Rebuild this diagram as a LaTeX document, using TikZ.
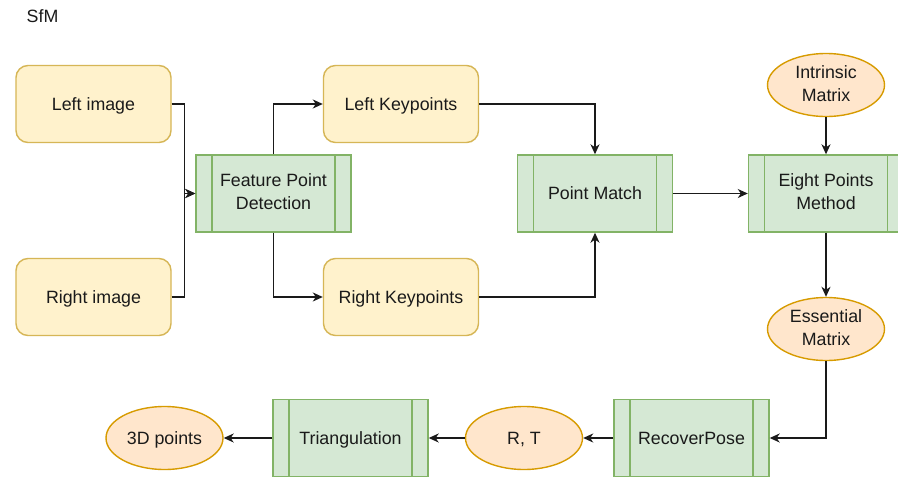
\documentclass[tikz,border=0pt]{standalone}
\usepackage{fontspec}
\setmainfont{Liberation Sans}
\usetikzlibrary{arrows.meta,shapes.geometric}
\definecolor{yfill}{HTML}{FFF2CC}
\definecolor{ydraw}{HTML}{D6B656}
\definecolor{gfill}{HTML}{D5E8D4}
\definecolor{gdraw}{HTML}{82B366}
\definecolor{ofill}{HTML}{FFE6CC}
\definecolor{odraw}{HTML}{D79B00}
\definecolor{txt}{HTML}{1A1A1A}
\definecolor{edge}{HTML}{1A1A1A}
\tikzset{
  base/.style={inner sep=0pt, align=center, text=txt, line width=1.4pt,
    font=\fontsize{17.8}{23}\selectfont,
    execute at begin node={\rule{0pt}{16.1pt}},
    execute at end node={\rule[-3.8pt]{0pt}{3.8pt}}},
  rbox/.style={base, rectangle, rounded corners=12pt, fill=yfill, draw=ydraw,
    minimum width=155pt, minimum height=77pt},
  pbox/.style={base, rectangle, fill=gfill, draw=gdraw,
    minimum width=155pt, minimum height=77pt,
    path picture={
      \draw[gdraw, line width=1.4pt]
        ([xshift=16pt]path picture bounding box.north west) -- ([xshift=16pt]path picture bounding box.south west)
        ([xshift=-16pt]path picture bounding box.north east) -- ([xshift=-16pt]path picture bounding box.south east);
    }},
  ebox/.style={base, ellipse, fill=ofill, draw=odraw,
    minimum width=117pt, minimum height=63pt},
  arr/.style={draw=edge, line width=1.4pt, -{Stealth[length=10pt,width=9pt,inset=3pt]}}
}
\begin{document}
\begin{tikzpicture}[x=1pt,y=-1pt]
\clip (0,0) rectangle (898,477);
\fill[white] (0,0) rectangle (898,477);
\node[base, anchor=west] (title) at (26,16) {SfM};
\node[rbox] (li) at (93.5,104) {Left image};
\node[rbox] (ri) at (93.5,297) {Right image};
\node[pbox] (fpd) at (273.5,193.5) {Feature Point\\Detection};
\node[rbox] (lk) at (401,104) {Left Keypoints};
\node[rbox] (rk) at (401,297) {Right Keypoints};
\node[pbox] (pm) at (595,193.5) {Point Match};
\node[pbox] (ep) at (826,193.5) {Eight Points\\Method};
\node[ebox] (im) at (826,85) {Intrinsic\\Matrix};
\node[ebox] (em) at (826,329) {Essential\\Matrix};
\node[pbox] (rp) at (691.5,438) {RecoverPose};
\node[ebox] (rt) at (524,438) {R, T};
\node[pbox] (tri) at (350.5,438) {Triangulation};
\node[ebox] (p3) at (164.5,438) {3D points};

\draw[arr] (li.east) -- ++(13,0) |- (fpd.west);
\draw[arr] (ri.east) -- ++(13,0) |- (fpd.west);
\draw[arr] (fpd.north) |- (lk.west);
\draw[arr] (fpd.south) |- (rk.west);
\draw[arr] (lk.east) -| (pm.north);
\draw[arr] (rk.east) -| (pm.south);
\draw[arr] (pm.east) -- (ep.west);
\draw[arr] (im.south) -- (ep.north);
\draw[arr] (ep.south) -- (em.north);
\draw[arr] (em.south) |- (rp.east);
\draw[arr] (rp.west) -- (rt.east);
\draw[arr] (rt.west) -- (tri.east);
\draw[arr] (tri.west) -- (p3.east);
\end{tikzpicture}
\end{document}
